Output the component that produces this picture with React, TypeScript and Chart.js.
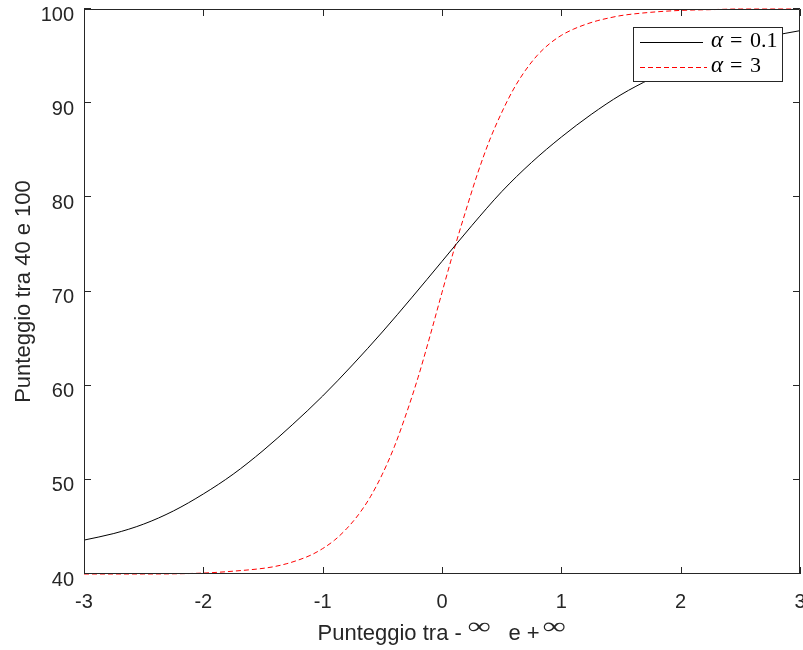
import React, { useEffect, useRef } from "react";
import { Chart, registerables } from "chart.js";

Chart.register(...registerables);

// alpha = 0.1 (solid black)
const xBlack = [-3, -2.75, -2.5, -2.25, -2, -1.75, -1.5, -1.25, -1, -0.75, -0.5, -0.25, 0, 0.25, 0.5, 0.75, 1, 1.25, 1.5, 1.75, 2, 2.25, 2.5, 2.75, 3];
const yBlack = [43.6, 44.3, 45.3, 46.7, 48.5, 50.6, 53.1, 55.9, 58.9, 62.2, 65.7, 69.4, 73.2, 77.0, 80.6, 83.7, 86.4, 88.8, 90.9, 92.6, 94.1, 95.3, 96.3, 97.1, 97.7];

// alpha = 3 (dashed red)
const xRed = [-3, -2.5, -2, -1.75, -1.5, -1.4, -1.3, -1.2, -1.1, -1, -0.9, -0.8, -0.7, -0.6, -0.5, -0.4, -0.3, -0.2, -0.1, 0, 0.1, 0.2, 0.3, 0.4, 0.5, 0.6, 0.7, 0.8, 0.9, 1, 1.1, 1.2, 1.3, 1.4, 1.5, 1.75, 2, 2.25, 2.5, 2.75, 3];
const yRed = [40.0, 40.0, 40.1, 40.3, 40.6, 40.8, 41.1, 41.5, 42.0, 42.7, 43.6, 44.8, 46.3, 48.2, 50.6, 53.5, 57.0, 60.9, 65.3, 69.9, 74.4, 78.6, 82.6, 86.1, 89.0, 91.5, 93.5, 95.1, 96.3, 97.2, 97.85, 98.35, 98.75, 99.05, 99.3, 99.65, 99.85, 99.93, 100, 100, 100];

const xTicks = [-3, -2, -1, 0, 1, 2, 3];
const yTicks = [40, 50, 60, 70, 80, 90, 100];
const legendValues = ["0.1", "3"];
const yTitle = "Punteggio tra 40 e 100";
const xTitleParts = ["Punteggio tra -", "∞", "e +", "∞"];

const AXIS = "#262626";
const SANS = "'Liberation Sans', Arial, sans-serif";

const drawInfinity = (ctx: any, text: string, x: number, topY: number, w: number, h: number) => {
  ctx.save();
  ctx.font = "200 30px 'DejaVu Sans ExtraLight', 'Liberation Serif', serif";
  const m = ctx.measureText(text);
  const iw = (m.actualBoundingBoxLeft || 0) + m.actualBoundingBoxRight;
  const ih = m.actualBoundingBoxAscent + m.actualBoundingBoxDescent;
  ctx.translate(x, topY);
  ctx.scale(w / iw, h / ih);
  ctx.textAlign = "left";
  ctx.textBaseline = "alphabetic";
  ctx.fillText(text, m.actualBoundingBoxLeft || 0, m.actualBoundingBoxAscent);
  ctx.restore();
};

const framePlugin = {
  id: "matlabFrame",
  afterDatasetsDraw(chart: any) {
    const { ctx, chartArea } = chart;
    const { left, right, top, bottom } = chartArea;
    const xs = chart.scales.x;
    const ys = chart.scales.y;
    ctx.save();
    ctx.strokeStyle = AXIS;
    ctx.lineWidth = 1;
    ctx.beginPath();
    ctx.rect(left + 0.5, top + 0.5, right - left - 1, bottom - top - 1);
    ctx.stroke();
    const tl = 7;
    ctx.beginPath();
    xTicks.forEach((v) => {
      const px = Math.round(xs.getPixelForValue(v)) + 0.5;
      ctx.moveTo(px, bottom);
      ctx.lineTo(px, bottom - tl);
      ctx.moveTo(px, top);
      ctx.lineTo(px, top + tl);
    });
    yTicks.forEach((v) => {
      const py = Math.round(ys.getPixelForValue(v)) - 0.5;
      ctx.moveTo(left, py);
      ctx.lineTo(left + tl, py);
      ctx.moveTo(right, py);
      ctx.lineTo(right - tl, py);
    });
    ctx.stroke();

    // x-axis title: text pieces with raised infinity symbols (TeX style)
    const mainFont = "22px " + SANS;
    const cxMid = (left + right) / 2;
    const inkLeft = [cxMid - 123.5, cxMid + 26.5, cxMid + 66.5, cxMid + 101.5];
    ctx.fillStyle = AXIS;
    ctx.textAlign = "left";
    ctx.textBaseline = "alphabetic";
    const baseY = 640;
    xTitleParts.forEach((p, i) => {
      if (i % 2 === 1) {
        drawInfinity(ctx, p, inkLeft[i], 622, 22, 10.5);
      } else {
        ctx.font = mainFont;
        const m = ctx.measureText(p);
        ctx.fillText(p, inkLeft[i] + (m.actualBoundingBoxLeft || 0), baseY);
      }
    });
    ctx.restore();
  },
  afterDraw(chart: any) {
    const { ctx } = chart;
    const bx = 633, by = 27, bw = 149, bh = 54;
    ctx.save();
    ctx.fillStyle = "#ffffff";
    ctx.fillRect(bx, by, bw, bh);
    ctx.strokeStyle = AXIS;
    ctx.lineWidth = 1;
    ctx.strokeRect(bx + 0.5, by + 0.5, bw, bh);
    const rows = [
      { y: 42, color: "#000000", dash: [] as number[], value: legendValues[0], end: 703 },
      { y: 67, color: "#ff0000", dash: [5, 3], value: legendValues[1], end: 707 },
    ];
    rows.forEach((r) => {
      ctx.strokeStyle = r.color;
      ctx.setLineDash(r.dash);
      ctx.beginPath();
      ctx.moveTo(640, r.y + 0.5);
      ctx.lineTo(r.end, r.y + 0.5);
      ctx.stroke();
      ctx.setLineDash([]);
      ctx.fillStyle = "#000000";
      ctx.textBaseline = "alphabetic";
      ctx.textAlign = "left";
      ctx.font = "italic 23px 'Liberation Serif', 'DejaVu Serif', serif";
      ctx.fillText("α", 711, r.y + 5);
      ctx.font = "22px 'Liberation Serif', 'DejaVu Serif', serif";
      ctx.fillText("=", 730, r.y + 5);
      ctx.fillText(r.value, 750, r.y + 5);
    });
    ctx.restore();
  },
};

const zeroPad = (s: any) => {
  s.paddingLeft = 0;
  s.paddingRight = 0;
  s.paddingTop = 0;
  s.paddingBottom = 0;
};

export default function App() {
  const canvasRef = useRef<HTMLCanvasElement>(null);
  useEffect(() => {
    if (!canvasRef.current) return;
    const chart = new Chart(canvasRef.current, {
      type: "line",
      data: {
        datasets: [
          {
            label: "α = " + legendValues[0],
            data: xBlack.map((x, i) => ({ x, y: yBlack[i] })),
            borderColor: "#000000",
            borderWidth: 1,
            pointRadius: 0,
            cubicInterpolationMode: "monotone",
            fill: false,
            clip: 2,
          },
          {
            label: "α = " + legendValues[1],
            data: xRed.map((x, i) => ({ x, y: yRed[i] })),
            borderColor: "#ff0000",
            borderWidth: 1,
            borderDash: [5, 3],
            pointRadius: 0,
            cubicInterpolationMode: "monotone",
            fill: false,
            clip: 2,
          },
        ],
      },
      options: {
        animation: false,
        responsive: false,
        devicePixelRatio: 1,
        layout: { padding: { top: 9, right: 3, left: 0, bottom: 0 } },
        plugins: { legend: { display: false }, tooltip: { enabled: false } },
        scales: {
          x: {
            type: "linear",
            min: -3,
            max: 3,
            afterBuildTicks: (s: any) => {
              s.ticks = xTicks.map((v) => ({ value: v }));
            },
            afterFit: (s: any) => {
              s.height = 76;
              zeroPad(s);
            },
            grid: { display: false, drawTicks: false },
            border: { display: false },
            ticks: {
              color: AXIS,
              padding: 16,
              maxRotation: 0,
              font: { family: SANS, size: 20 },
            },
          },
          y: {
            type: "linear",
            min: 40,
            max: 100,
            afterBuildTicks: (s: any) => {
              s.ticks = yTicks.map((v) => ({ value: v }));
            },
            afterFit: (s: any) => {
              s.width = 84;
              zeroPad(s);
            },
            grid: { display: false, drawTicks: false },
            border: { display: false },
            title: {
              display: true,
              text: yTitle,
              color: AXIS,
              padding: { top: 11, bottom: 0 },
              font: { family: SANS, size: 22 },
            },
            ticks: {
              color: AXIS,
              padding: 10,
              callback: (v: any) => ["", String(v)],
              font: { family: SANS, size: 20, lineHeight: "12px" },
            },
          },
        },
      } as any,
      plugins: [framePlugin],
    });
    return () => chart.destroy();
  }, []);
  return (
    <div style={{ position: "absolute", left: 0, top: 0, width: 803, height: 650, background: "#fff" }}>
      <canvas ref={canvasRef} width={803} height={650} style={{ width: 803, height: 650 }} />
    </div>
  );
}
